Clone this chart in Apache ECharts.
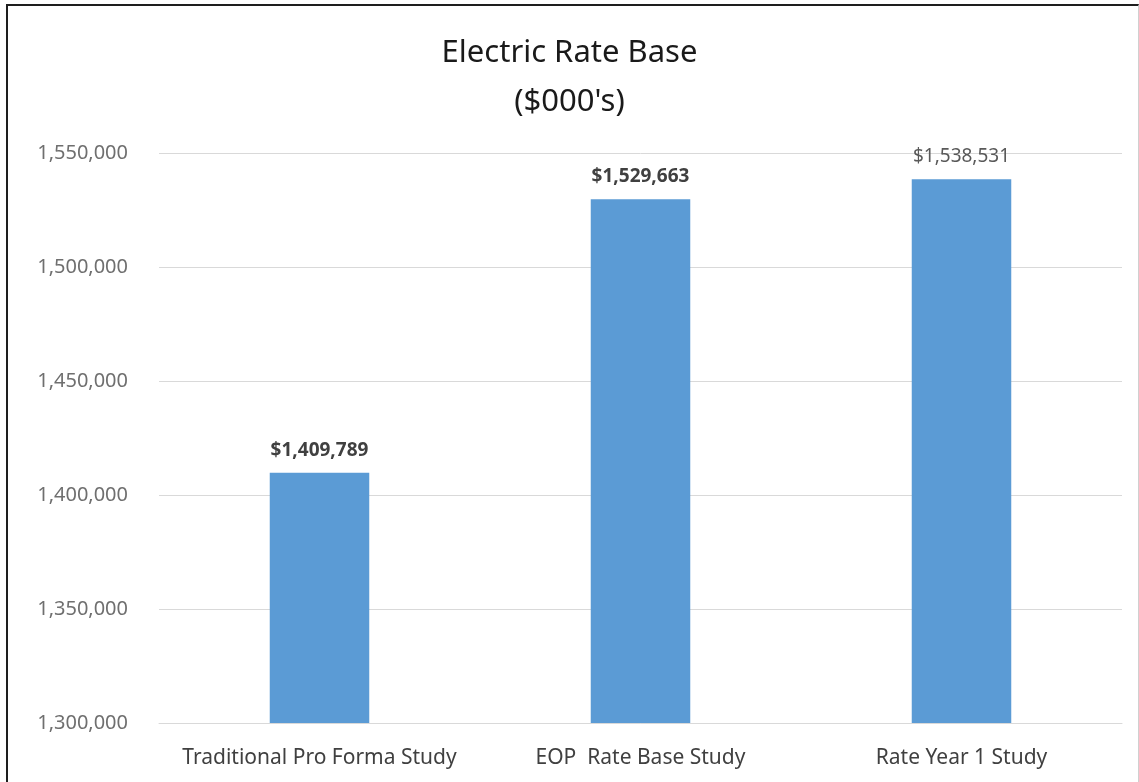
<!DOCTYPE html>
<html>
<head>
<meta charset="utf-8">
<title>Electric Rate Base</title>
<script src="https://cdn.jsdelivr.net/npm/echarts@6/dist/echarts.min.js"></script>
<style>
  html, body { margin: 0; padding: 0; background: #fff; }
  #chart { width: 1139px; height: 782px; }
  /* frame around the chart picture */
  #frame {
    position: absolute; left: 6px; top: 4px; width: 1130px; height: 800px;
    border-left: 2px solid #1e1e1e; border-top: 2px solid #1e1e1e;
    border-right: 1px solid #d0d0d0;
    pointer-events: none;
  }
</style>
</head>
<body>
<div id="chart"></div>
<div id="frame"></div>
<script>
// data
const categories = ['Traditional Pro Forma Study', 'EOP  Rate Base Study', 'Rate Year 1 Study'];
const rateBase = [1409789, 1529663, 1538531];
const labelBold = [true, true, false];
const yTicks = [1300000, 1350000, 1400000, 1450000, 1500000, 1550000];

const fmt = (v) => v.toLocaleString('en-US');

const myChart = echarts.init(document.getElementById('chart'));

const option = {
  animation: false,
  textStyle: { fontFamily: 'Noto Sans' },
  title: {
    text: "Electric Rate Base\n($000's)",
    left: 'center',
    top: 24,
    textStyle: {
      fontFamily: 'Noto Sans',
      fontSize: 31,
      fontWeight: 'normal',
      color: '#1a1a1a',
      lineHeight: 49
    }
  },
  grid: {
    left: 159,
    right: 17,
    top: 153,
    bottom: 59,
    containLabel: false
  },
  xAxis: {
    type: 'category',
    data: categories,
    axisLine: { show: true, lineStyle: { color: '#d9d9d9', width: 1 } },
    axisTick: { show: false },
    axisLabel: {
      interval: 0,
      margin: 25,
      fontSize: 21,
      color: '#404040',
      fontFamily: 'Noto Sans'
    }
  },
  yAxis: {
    type: 'value',
    min: yTicks[0],
    max: yTicks[yTicks.length - 1],
    interval: 50000,
    axisLine: { show: false },
    axisTick: { show: false },
    splitLine: { lineStyle: { color: '#d9d9d9', width: 1 } },
    axisLabel: {
      margin: 31,
      fontSize: 20,
      color: '#6f6f6f',
      fontFamily: 'Noto Sans',
      formatter: (v) => fmt(v)
    }
  },
  series: [{
    type: 'bar',
    barWidth: '31%',
    data: rateBase.map((v, i) => ({
      value: v,
      label: {
        fontWeight: labelBold[i] ? 'bold' : 'normal',
        color: labelBold[i] ? '#404040' : '#595959'
      }
    })),
    itemStyle: { color: '#5b9bd5' },
    label: {
      show: true,
      position: 'top',
      distance: 13,
      fontSize: 19,
      fontFamily: 'Noto Sans',
      formatter: (p) => '$' + fmt(p.value)
    }
  }]
};

myChart.setOption(option);
</script>
</body>
</html>
